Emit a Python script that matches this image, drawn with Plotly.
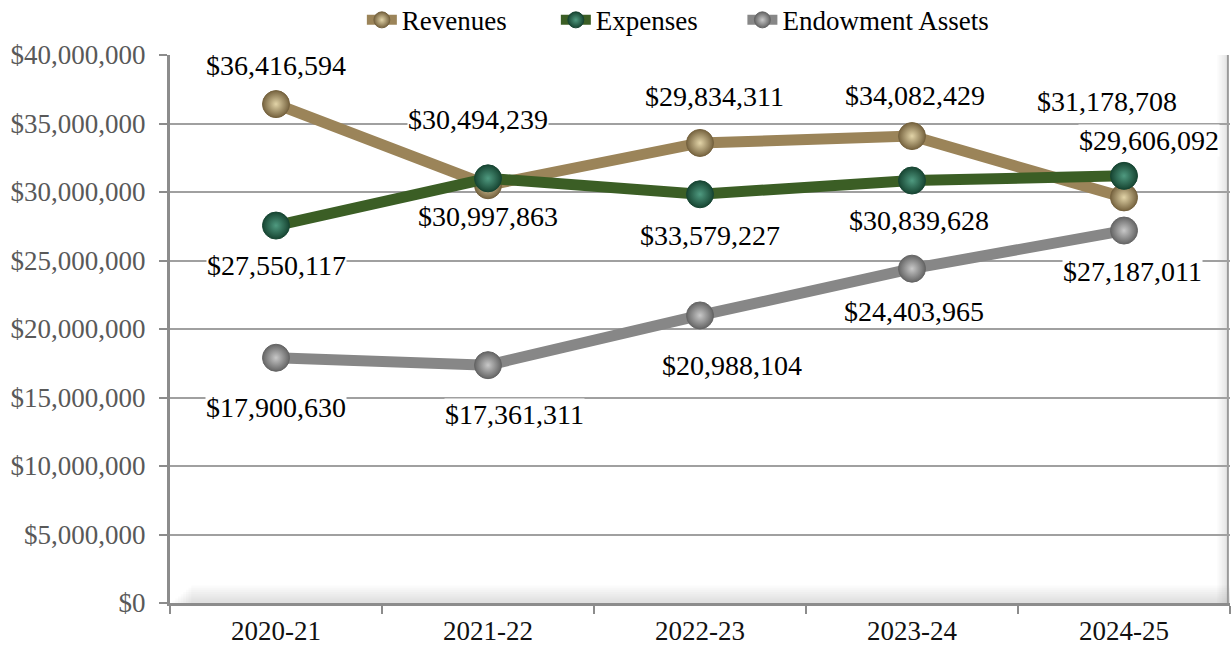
import plotly.graph_objects as go

# Fiscal years on the category axis
years = ["2020-21", "2021-22", "2022-23", "2023-24", "2024-25"]

# Annual totals in dollars
revenues = [36416594, 30494239, 33579227, 34082429, 29606092]
expenses = [27550117, 30997863, 29834311, 30839628, 31178708]
endowment = [17900630, 17361311, 20988104, 24403965, 27187011]

# Pixel offsets for each value label relative to its point (dx, dy; dy up is positive)
rev_label_shift = [(0, 39), (-10, 66), (10, -93), (3, 41), (25, 57)]
exp_label_shift = [(0, -40), (0, -38), (14, 98), (7, -40), (-17, 74)]
end_label_shift = [(0, -50), (26, -49), (32, -50), (2, -43), (8, -41)]

FONT = "Liberation Serif"

# name, values, line colour, sphere edge, sphere highlight, label offsets, legend id, legend x
series = [
    ("Revenues", revenues, "#9b8459", "#76633f", "#e2d4a8", rev_label_shift, "legend", 0.181),
    ("Expenses", expenses, "#3b5e25", "#174532", "#4f9a80", exp_label_shift, "legend2", 0.364),
    ("Endowment Assets", endowment, "#878787", "#656565", "#c8c8c8", end_label_shift, "legend3", 0.540),
]

fig = go.Figure()

# Soft shading along the floor and the right wall of the plot area
for i in range(8):
    fig.add_shape(type="rect", xref="paper", yref="paper",
                  x0=0.02 - 0.0025 * i, x1=1, y0=0, y1=0.032 - 0.004 * i,
                  fillcolor="#9a9a9a", opacity=0.035, line_width=0, layer="below")
    fig.add_shape(type="rect", xref="paper", yref="paper",
                  x0=0.988 + 0.0015 * i, x1=0.998, y0=0, y1=1,
                  fillcolor="#9a9a9a", opacity=0.04, line_width=0, layer="below")
fig.add_shape(type="line", xref="paper", yref="paper", x0=0.998, x1=0.998, y0=0, y1=1,
              line=dict(color="#9a9a9a", width=2), layer="below")

legend_layout = {}
for name, vals, line_col, edge_col, hi_col, shifts, leg, leg_x in series:
    fig.add_trace(go.Scatter(
        x=years, y=vals, name=name, mode="lines+markers", legend=leg,
        line=dict(color=line_col, width=11),
        marker=dict(size=27, color=edge_col,
                    gradient=dict(type="radial", color=hi_col),
                    line=dict(color=edge_col, width=1)),
        hoverinfo="skip",
    ))
    legend_layout[leg] = dict(
        orientation="h", x=leg_x, xanchor="left", y=1.108, yanchor="top",
        font=dict(family=FONT, size=27, color="#000000"),
        itemwidth=30, bgcolor="rgba(0,0,0,0)",
    )
    for yr, v, (dx, dy) in zip(years, vals, shifts):
        fig.add_annotation(
            x=yr, y=v, xref="x", yref="y", text=f"${v:,.0f}",
            showarrow=False, xshift=dx, yshift=dy,
            font=dict(family=FONT, size=28, color="#000000"),
            bgcolor="white", borderpad=0,
        )

fig.update_layout(
    width=1231, height=648,
    margin=dict(l=170, r=1, t=55, b=45, autoexpand=False),
    paper_bgcolor="white", plot_bgcolor="white",
    font=dict(family=FONT, size=28, color="#000000"),
    showlegend=True,
    **legend_layout,
)

fig.update_xaxes(
    type="category", range=[-0.5, 4.5], tickson="boundaries",
    ticks="outside", ticklen=8, tickwidth=2, tickcolor="#8c8c8c",
    showline=True, linecolor="#8c8c8c", linewidth=3,
    showgrid=False, ticklabelstandoff=2,
    tickfont=dict(family=FONT, size=27, color="#111111"),
)
fig.update_yaxes(
    range=[0, 40000000], dtick=5000000, tickformat="$,.0f",
    ticks="outside", ticklen=8, tickwidth=2, tickcolor="#8c8c8c",
    showline=True, linecolor="#8c8c8c", linewidth=3,
    showgrid=True, gridcolor="#a0a0a0", gridwidth=1.5,
    zeroline=False, ticklabelstandoff=8,
    tickfont=dict(family=FONT, size=27, color="#595959"),
)

fig.write_html("out.html")
